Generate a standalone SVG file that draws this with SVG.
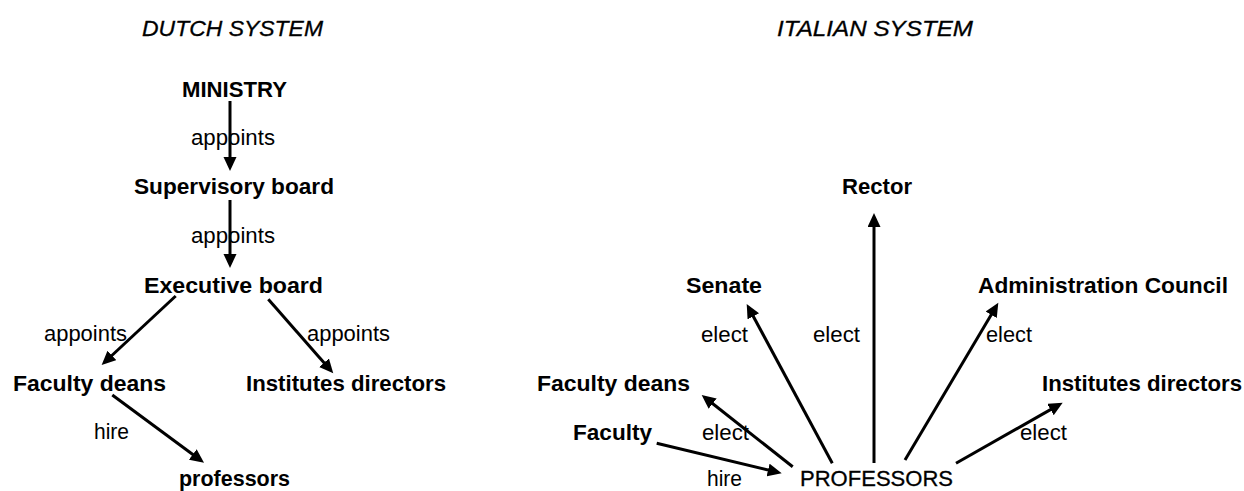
<svg xmlns="http://www.w3.org/2000/svg" width="1244" height="491" viewBox="0 0 1244 491">
<defs>
<style>
text{font-family:"Liberation Sans",Arial,sans-serif;font-size:22px;fill:#000}
.title{font-style:italic;stroke:#000;stroke-width:0.3}
.node{font-weight:bold}
.lbl{font-weight:normal}
.prof{font-weight:normal;stroke:#000;stroke-width:0.3}
.edge{stroke:#000;stroke-width:3;fill:none;marker-end:url(#arr)}
</style>
<marker id="arr" markerUnits="userSpaceOnUse" markerWidth="15" markerHeight="14" refX="3" refY="6.5" orient="auto">
<path d="M0,0 L14,6.5 L0,13 z" fill="#000"/>
</marker>
</defs>
<rect width="1244" height="491" fill="#fff"/>
<g id="titles">
<text class="title" x="142" y="36" textLength="181" lengthAdjust="spacingAndGlyphs">DUTCH SYSTEM</text>
<text class="title" x="777" y="36" textLength="196" lengthAdjust="spacingAndGlyphs">ITALIAN SYSTEM</text>
</g>
<g id="connectors">
<line class="edge" x1="230" y1="101" x2="230" y2="160"/>
<line class="edge" x1="230" y1="200" x2="230" y2="257"/>
<line class="edge" x1="175.7" y1="296" x2="109.7" y2="357.5"/>
<line class="edge" x1="268.3" y1="299.3" x2="326" y2="365"/>
<line class="edge" x1="112.3" y1="395" x2="195.2" y2="456.2"/>
<line class="edge" x1="874" y1="463" x2="874" y2="224"/>
<line class="edge" x1="832.3" y1="463.3" x2="751.9" y2="313.7"/>
<line class="edge" x1="792.7" y1="466.7" x2="710.3" y2="401.8"/>
<line class="edge" x1="656.7" y1="443.3" x2="771" y2="470.7"/>
<line class="edge" x1="905" y1="460" x2="992.7" y2="312.2"/>
<line class="edge" x1="956" y1="463.3" x2="1053.1" y2="408.1"/>
</g>
<g id="edge-labels">
<text class="lbl" x="191" y="145" textLength="84" lengthAdjust="spacingAndGlyphs">appoints</text>
<text class="lbl" x="191" y="243" textLength="84" lengthAdjust="spacingAndGlyphs">appoints</text>
<text class="lbl" x="44" y="341" textLength="83" lengthAdjust="spacingAndGlyphs">appoints</text>
<text class="lbl" x="307" y="341" textLength="83" lengthAdjust="spacingAndGlyphs">appoints</text>
<text class="lbl" x="94" y="439" textLength="35" lengthAdjust="spacingAndGlyphs">hire</text>
<text class="lbl" x="701" y="342" textLength="47" lengthAdjust="spacingAndGlyphs">elect</text>
<text class="lbl" x="813" y="342" textLength="47" lengthAdjust="spacingAndGlyphs">elect</text>
<text class="lbl" x="986" y="342" textLength="46" lengthAdjust="spacingAndGlyphs">elect</text>
<text class="lbl" x="702" y="440" textLength="47" lengthAdjust="spacingAndGlyphs">elect</text>
<text class="lbl" x="1020" y="440" textLength="47" lengthAdjust="spacingAndGlyphs">elect</text>
<text class="lbl" x="707" y="486" textLength="35" lengthAdjust="spacingAndGlyphs">hire</text>
</g>
<g id="d-ministry"><text class="node" x="182" y="97" textLength="105" lengthAdjust="spacingAndGlyphs">MINISTRY</text></g>
<g id="d-supervisory"><text class="node" x="134" y="194" textLength="200" lengthAdjust="spacingAndGlyphs">Supervisory board</text></g>
<g id="d-executive"><text class="node" x="144" y="293" textLength="179" lengthAdjust="spacingAndGlyphs">Executive board</text></g>
<g id="d-deans"><text class="node" x="13" y="391" textLength="153" lengthAdjust="spacingAndGlyphs">Faculty deans</text></g>
<g id="d-institutes"><text class="node" x="246" y="391" textLength="200" lengthAdjust="spacingAndGlyphs">Institutes directors</text></g>
<g id="d-professors"><text class="node" x="179" y="486" textLength="111" lengthAdjust="spacingAndGlyphs">professors</text></g>
<g id="i-rector"><text class="node" x="842" y="194" textLength="70" lengthAdjust="spacingAndGlyphs">Rector</text></g>
<g id="i-senate"><text class="node" x="686" y="293" textLength="76" lengthAdjust="spacingAndGlyphs">Senate</text></g>
<g id="i-admin"><text class="node" x="978" y="293" textLength="250" lengthAdjust="spacingAndGlyphs">Administration Council</text></g>
<g id="i-deans"><text class="node" x="537" y="391" textLength="153" lengthAdjust="spacingAndGlyphs">Faculty deans</text></g>
<g id="i-institutes"><text class="node" x="1042" y="391" textLength="200" lengthAdjust="spacingAndGlyphs">Institutes directors</text></g>
<g id="i-faculty"><text class="node" x="573" y="440" textLength="79" lengthAdjust="spacingAndGlyphs">Faculty</text></g>
<g id="i-professors"><text class="prof" x="800" y="486" textLength="153" lengthAdjust="spacingAndGlyphs">PROFESSORS</text></g>
</svg>
